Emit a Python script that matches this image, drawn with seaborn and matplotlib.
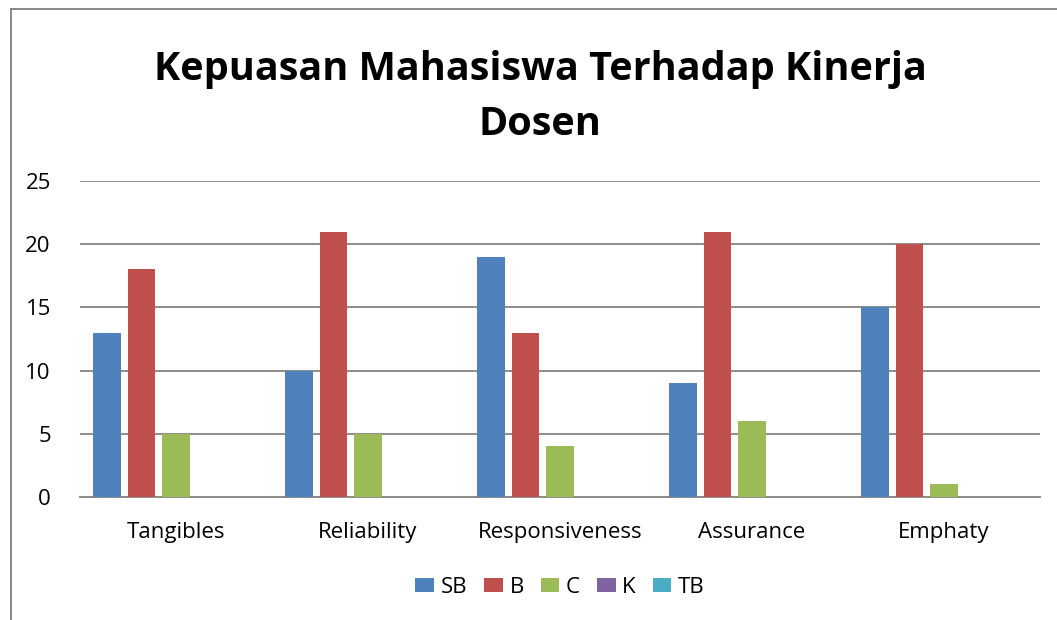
import matplotlib
matplotlib.use("Agg")
import matplotlib.pyplot as plt
import seaborn as sns
import pandas as pd
from matplotlib.patches import Rectangle

# Data
categories = ["Tangibles", "Reliability", "Responsiveness", "Assurance", "Emphaty"]
series = ["SB", "B", "C", "K", "TB"]
sb = [13, 10, 19, 9, 15]
b = [18, 21, 13, 21, 20]
c = [5, 5, 4, 6, 1]
k = [0, 0, 0, 0, 0]
tb = [0, 0, 0, 0, 0]
colors = ["#4F81BD", "#C0504D", "#9BBB59", "#8064A2", "#4BACC6"]

rows = []
for name, vals in zip(series, [sb, b, c, k, tb]):
    for cat, v in zip(categories, vals):
        rows.append({"Kategori": cat, "Seri": name, "Nilai": v})
df = pd.DataFrame(rows)

sns.set_style("white")
plt.rcParams["font.family"] = ["Open Sans", "DejaVu Sans"]
plt.rcParams["text.color"] = "black"

fig = plt.figure(figsize=(10.57, 6.2), dpi=100)
ax = fig.add_axes([80 / 1057, 1 - 497 / 620, 960 / 1057, 316 / 620])

sns.barplot(data=df, x="Kategori", y="Nilai", hue="Seri", hue_order=series,
            order=categories, palette=colors, width=0.9, gap=0.2,
            saturation=1, linewidth=0, ax=ax, legend=True, zorder=3)

ax.set_ylim(0, 25)
ax.set_xlim(-0.5, 4.5)
ax.set_yticks([0, 5, 10, 15, 20, 25])
ax.yaxis.grid(True, color="#8c8c8c", linewidth=1.4, zorder=0)
ax.set_axisbelow(True)
for s in ["top", "right", "left"]:
    ax.spines[s].set_visible(False)
ax.spines["bottom"].set_color("#8c8c8c")
ax.spines["bottom"].set_linewidth(1.4)
ax.tick_params(axis="both", length=0, labelsize=16, colors="black")
ax.tick_params(axis="y", pad=21)
ax.tick_params(axis="x", pad=18)
ax.set_xlabel("")
ax.set_ylabel("")

leg = ax.legend(loc="center", bbox_to_anchor=(0.5, -0.285), ncol=5, frameon=False,
                fontsize=16, handlelength=0.85, handleheight=0.6,
                handletextpad=0.3, columnspacing=0.75)

fig.text(540 / 1057, 1 - 97 / 620, "Kepuasan Mahasiswa Terhadap Kinerja\nDosen",
         ha="center", va="center", fontsize=28.5, fontweight="bold",
         linespacing=1.55, color="black")

# chart frame (only left and top edges visible in the crop)
fig.patches.append(Rectangle((11 / 1057, -0.1), 1.2, 1 - 9 / 620 + 0.1,
                             transform=fig.transFigure, fill=False,
                             edgecolor="#888888", linewidth=1.4))

fig.savefig("out.png", dpi=100)
